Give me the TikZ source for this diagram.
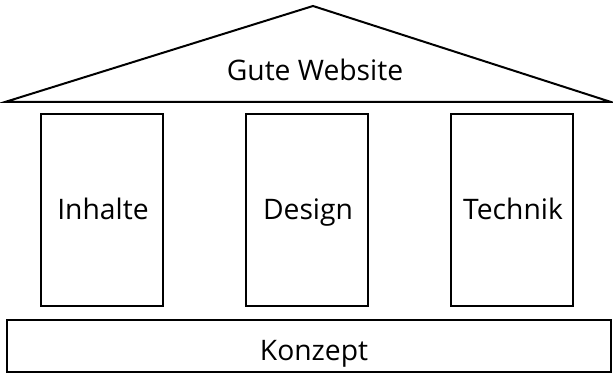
\documentclass[tikz,border=0pt]{standalone}
\usepackage{fontspec}
\setmainfont{Open Sans}
\usetikzlibrary{positioning}

\tikzset{
  part/.style={draw, line width=1.5pt, line join=miter},
  pillar/.style={part, minimum width=91.5pt, minimum height=144pt, inner sep=0pt},
  label/.style={font=\fontsize{21.2}{25}\selectfont, inner sep=0pt, anchor=base}
}

\begin{document}
\begin{tikzpicture}[x=0.75pt, y=-0.75pt]
\useasboundingbox (0,0) rectangle (613,377);
% Dach
\draw[part] (5,102) -- (313,6) -- (611,102) -- cycle;
\node[label] (roof) at (315,81) {Gute Website};
% Saeulen
\node[pillar] (inhalte) at (102,210) {};
\node[pillar] (design) at (307,210) {};
\node[pillar] (technik) at (512,210) {};
\node[label] at (103,220) {Inhalte};
\node[label] at (308,220) {Design};
\node[label] at (513,220) {Technik};
% Fundament
\draw[part] (7,320) rectangle (611,372);
\node[label] (konzept) at (314,360) {Konzept};
\end{tikzpicture}
\end{document}
